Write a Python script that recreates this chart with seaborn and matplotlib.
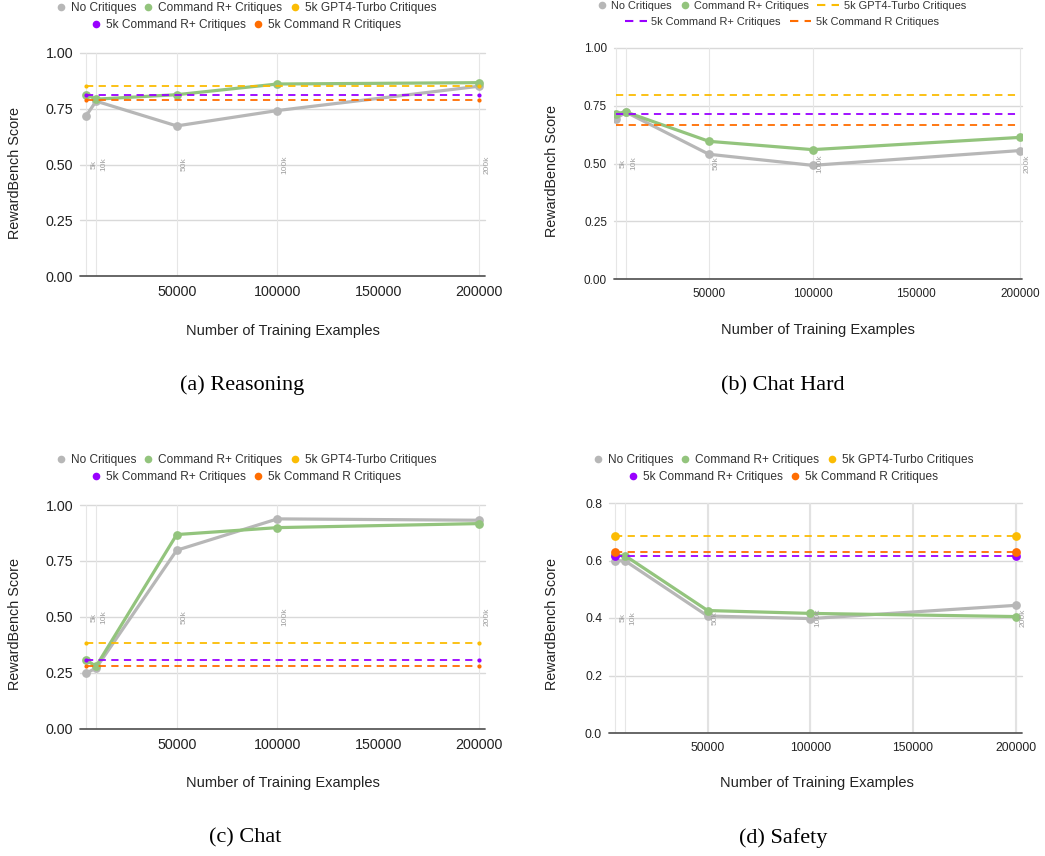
import numpy as np
import pandas as pd
import matplotlib.pyplot as plt
import matplotlib.ticker as mticker
from matplotlib.lines import Line2D
from matplotlib.legend_handler import HandlerLine2D
import seaborn as sns

# ── Dados ────────────────────────────────────────────────
steps = [5000, 10000, 50000, 100000, 200000]
step_labels = ["5k", "10k", "50k", "100k", "200k"]
ref_x = [5000, 200000]
xticks = [50000, 100000, 150000, 200000]

series_names = ["No Critiques", "Command R+ Critiques", "5k GPT4-Turbo Critiques",
                "5k Command R+ Critiques", "5k Command R Critiques"]
colors = ["#b7b7b7", "#93c47d", "#fbbc04", "#9900ff", "#ff6d01"]

# referências: GPT4-Turbo, Command R+, Command R (5k)
reasoning_none = [0.718, 0.784, 0.673, 0.742, 0.851]
reasoning_rplus = [0.813, 0.793, 0.813, 0.861, 0.867]
reasoning_refs = [0.851, 0.813, 0.787]

chathard_none = [0.694, 0.722, 0.540, 0.492, 0.556]
chathard_rplus = [0.716, 0.723, 0.596, 0.560, 0.613]
chathard_refs = [0.798, 0.716, 0.668]

chat_none = [0.249, 0.272, 0.798, 0.938, 0.932]
chat_rplus = [0.308, 0.280, 0.868, 0.899, 0.917]
chat_refs = [0.382, 0.307, 0.281]

safety_none = [0.600, 0.598, 0.407, 0.398, 0.444]
safety_rplus = [0.619, 0.616, 0.426, 0.416, 0.405]
safety_refs = [0.686, 0.616, 0.630]

captions = ["(a) Reasoning", "(b) Chat Hard", "(c) Chat", "(d) Safety"]

# ── Configuração visual ──────────────────────────────────
sns.set_theme(style="white")
plt.rcParams["font.family"] = ["Liberation Sans", "DejaVu Sans"]

W, H = 1045, 856
fig = plt.figure(figsize=(W / 100, H / 100), dpi=100)


def fx(px):
    return px / W


def fy(py):
    return 1 - py / H


class ShortDot(HandlerLine2D):
    # bolinha com caixa curta dentro de legenda com traços longos
    def legend_artist(self, legend, orig_handle, fontsize, handlebox):
        handlebox.width = 0.8 * fontsize
        return super().legend_artist(legend, orig_handle, fontsize, handlebox)


def painel(box, none, rplus, refs, ymax, ystep, yfmt, xlim, tick_size,
           ref_ms, label_y, strong_vgrid):
    l, t, r, b = box
    ax = fig.add_axes([fx(l), fy(b), fx(r - l), (b - t) / H])
    for s in ax.spines.values():
        s.set_visible(False)
    ax.set_xlim(*xlim)
    ax.set_ylim(0, ymax)
    yticks = np.round(np.arange(0, ymax + 1e-9, ystep), 3)

    for y in yticks[1:]:
        ax.axhline(y, color="#d9d9d9", lw=1.0, zorder=0, clip_on=False)
    for x in steps:
        ax.axvline(x, color="#e6e6e6", lw=0.8, zorder=0)
    if strong_vgrid:
        for x in xticks:
            ax.axvline(x, color="#e2e2e2", lw=1.5, zorder=0)
    ax.axhline(0, color="#5a5a5a", lw=1.3, zorder=2, clip_on=False)

    sns.lineplot(x=steps, y=none, ax=ax, color=colors[0], linewidth=2.3,
                 marker="o", markersize=6.3, markeredgewidth=0, zorder=3)
    sns.lineplot(x=steps, y=rplus, ax=ax, color=colors[1], linewidth=2.3,
                 marker="o", markersize=6.3, markeredgewidth=0, zorder=4)
    for i, v in enumerate(refs):
        sns.lineplot(x=ref_x, y=[v, v], ax=ax, color=colors[2 + i], linewidth=1.3,
                     linestyle=(0, (4, 3)), marker="o" if ref_ms else None,
                     markersize=ref_ms, markeredgewidth=0, zorder=5 + i)

    for x, lab in zip(steps, step_labels):
        ax.annotate(lab, (x, label_y), xytext=(3, 0), textcoords="offset points",
                    rotation=90, ha="left", va="center", fontsize=6,
                    color="#a0a0a0", zorder=8)

    ax.set_xticks(xticks)
    ax.set_xticklabels([str(x) for x in xticks])
    ax.set_yticks(yticks)
    ax.yaxis.set_major_formatter(mticker.FormatStrFormatter(yfmt))
    ax.tick_params(axis="x", length=0, labelsize=tick_size, pad=6.5, colors="#222222")
    ax.tick_params(axis="y", length=0, labelsize=tick_size, pad=5, colors="#222222")
    ax.set_xlabel("")
    ax.set_ylabel("")
    ax.grid(False)
    return ax


def legenda(cx, y1, y2, size, dashed, colspace):
    handles = []
    hmap = {}
    for i, c in enumerate(colors):
        if dashed and i >= 2:
            h = Line2D([], [], color=c, lw=1.5, linestyle=(0, (4, 3)))
        else:
            h = Line2D([], [], color=c, marker="o", linestyle="", markersize=5.5,
                       markeredgewidth=0)
            if dashed:
                hmap[h] = ShortDot()
        handles.append(h)
    kw = dict(loc="center", frameon=False, fontsize=size, labelcolor="#333333",
              handlelength=2.0 if dashed else 0.8, handletextpad=0.42,
              columnspacing=colspace, borderpad=0, borderaxespad=0,
              handler_map=hmap)
    fig.legend(handles[:3], series_names[:3], ncol=3,
               bbox_to_anchor=(fx(cx), fy(y1)), **kw)
    fig.legend(handles[3:], series_names[3:], ncol=2,
               bbox_to_anchor=(fx(cx), fy(y2)), **kw)


# ── (a) Reasoning ────────────────────────────────────────
painel((80, 53, 485, 276), reasoning_none, reasoning_rplus, reasoning_refs,
       1.0, 0.25, "%.2f", (2000, 203000), 10.3, 3.0, 0.5, False)
legenda(246, 8, 25, 8.6, False, 0.65)

# ── (b) Chat Hard ────────────────────────────────────────
painel((614, 48, 1022, 279), chathard_none, chathard_rplus, chathard_refs,
       1.0, 0.25, "%.2f", (4200, 201000), 8.5, 0, 0.5, False)
legenda(782, 6, 22, 7.9, True, 0.78)

# ── (c) Chat ─────────────────────────────────────────────
painel((80, 505, 485, 729), chat_none, chat_rplus, chat_refs,
       1.0, 0.25, "%.2f", (2000, 203000), 10.3, 3.0, 0.5, False)
legenda(246, 460, 477, 8.6, False, 0.65)

# ── (d) Safety ───────────────────────────────────────────
painel((609, 503, 1022, 733), safety_none, safety_rplus, safety_refs,
       0.8, 0.2, "%.1f", (2000, 203000), 8.7, 6.3, 0.4, True)
legenda(783, 460, 477, 8.6, False, 0.65)

# ── Rótulos e legendas das figuras ───────────────────────
ylab_pos = [(15, 173), (552, 171), (15, 624), (552, 624)]
xlab_pos = [(283, 331), (818, 330), (283, 783), (817, 783)]
cap_pos = [(242, 385), (783, 386), (245, 838), (783, 838)]

for (yx, yy), (xx, xy), (cx, cy), cap in zip(ylab_pos, xlab_pos, cap_pos, captions):
    fig.text(fx(yx), fy(yy), "RewardBench Score", rotation=90, ha="center",
             va="center", fontsize=10.4, color="#222222")
    fig.text(fx(xx), fy(xy), "Number of Training Examples", ha="center",
             va="center", fontsize=10.5, color="#222222")
    fig.text(fx(cx), fy(cy), cap, ha="center", va="center", fontsize=16,
             family="Liberation Serif", color="black")

plt.savefig("out.png", dpi=100)
